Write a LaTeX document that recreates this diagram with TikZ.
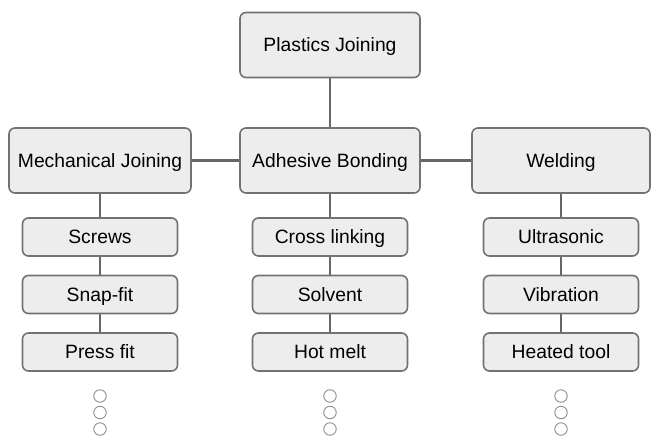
\documentclass[tikz,border=0pt]{standalone}
\usepackage{fontspec}
\setmainfont{Liberation Sans}
\usepackage{tikz}

\definecolor{boxfill}{HTML}{EDEDED}
\definecolor{boxline}{HTML}{727272}
\definecolor{linkline}{HTML}{666666}

\begin{document}
\begin{tikzpicture}[x=1pt, y=1pt, node distance=57.5pt]
 \tikzstyle{every node}=[font=\fontsize{19.3}{23}\selectfont, inner sep=0pt, text height=15pt, text depth=2pt]
 \tikzstyle{main}=[draw=boxline, line width=1.6pt, fill=boxfill, rounded corners=6pt, minimum height=65pt]
 \tikzstyle{sub}=[main, minimum width=155pt, minimum height=38pt]
 \tikzstyle{more}=[circle, draw=boxline!80, line width=0.9pt, fill=white, minimum size=12.5pt, text height=0pt, text depth=0pt]
 \tikzstyle{link}=[draw=linkline, line width=2.8pt]
 \useasboundingbox (0,0) rectangle (651,-440);
 \node[main, minimum width=180pt] (pj) at (330,-45) {Plastics Joining};
 \node[main, minimum width=182pt] (mj) at (100,-160.5) {Mechanical Joining};
 \node[main, minimum width=180pt] (ab) at (330,-160.5) {Adhesive Bonding};
 \node[main, minimum width=178pt] (w) at (561,-160.5) {Welding};
 \node[sub, node distance=76.5pt] (screws) [below of=mj] {Screws};
 \node[sub] (snap) [below of=screws] {Snap-fit};
 \node[sub] (press) [below of=snap] {Press fit};
 \node[sub, node distance=76.5pt] (cross) [below of=ab] {Cross linking};
 \node[sub] (solv) [below of=cross] {Solvent};
 \node[sub] (melt) [below of=solv] {Hot melt};
 \node[sub, node distance=76.5pt] (ultra) [below of=w] {Ultrasonic};
 \node[sub] (vib) [below of=ultra] {Vibration};
 \node[sub] (heat) [below of=vib] {Heated tool};
 % dots under each column
 \node[more] (m1) at (100,-396) {};
 \node[more] (m2) at (100,-412.5) {};
 \node[more] (m3) at (100,-429) {};
 \node[more] (a1) at (330,-396) {};
 \node[more] (a2) at (330,-412.5) {};
 \node[more] (a3) at (330,-429) {};
 \node[more] (w1) at (561,-396) {};
 \node[more] (w2) at (561,-412.5) {};
 \node[more] (w3) at (561,-429) {};
  \draw[link] (pj) to (ab);
  \draw[link] (mj) to (ab);
  \draw[link] (ab) to (w);
  \draw[link] (mj) to (screws);
  \draw[link] (screws) to (snap);
  \draw[link] (snap) to (press);
  \draw[link] (ab) to (cross);
  \draw[link] (cross) to (solv);
  \draw[link] (solv) to (melt);
  \draw[link] (w) to (ultra);
  \draw[link] (ultra) to (vib);
  \draw[link] (vib) to (heat);
\end{tikzpicture}
\end{document}
